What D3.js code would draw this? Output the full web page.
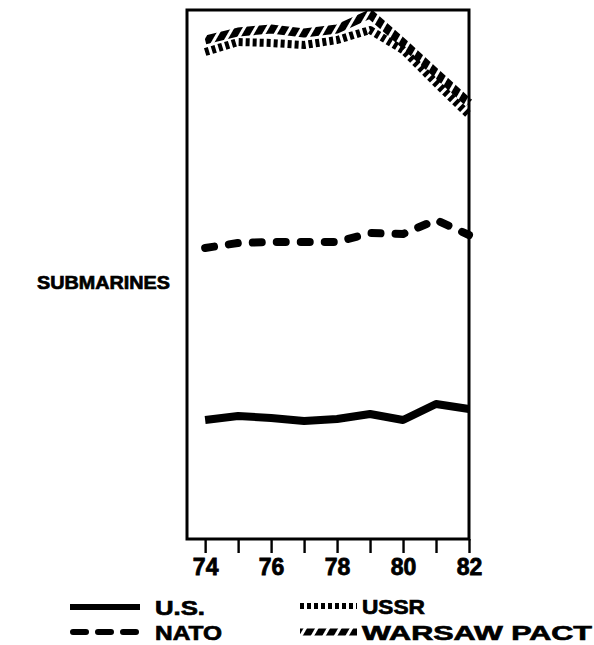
<!DOCTYPE html>
<html>
<head>
<meta charset="utf-8">
<script src="https://cdn.jsdelivr.net/npm/d3@7"></script>
<style>
  body { margin: 0; background: #fff; }
  text { font-family: "Liberation Sans", Arial, sans-serif; font-weight: bold; fill: #000; stroke: #000; stroke-width: 0.7px; }
</style>
</head>
<body>
<svg id="chart" width="594" height="645"></svg>
<script>
// years on the x axis
const years = [74, 75, 76, 77, 78, 79, 80, 81, 82];
const tickLabels = ['74', '76', '78', '80', '82'];

// relative force levels (no scale printed)
const us       = [119, 123, 121, 118, 120, 125, 119, 135, 130];
const nato     = [291, 296, 297, 297, 297, 306, 305, 319, 304];
const ussr     = [487, 497, 496, 494, 499, 509, 489, 456, 424];
const warsaw   = [499, 507, 510, 506, 510, 525, 496, 466, 436];

const seriesNames = ['U.S.', 'NATO', 'USSR', 'WARSAW PACT'];
const yLabel = 'SUBMARINES';

const svg = d3.select('#chart');
const margin = { top: 10, left: 187, right: 125, bottom: 106 };
const width = 594 - margin.left - margin.right;
const height = 645 - margin.top - margin.bottom;

// hatch pattern for the Warsaw Pact stroke
const defs = svg.append('defs');
defs.append('pattern')
  .attr('id', 'hatch')
  .attr('patternUnits', 'userSpaceOnUse')
  .attr('width', 10).attr('height', 10)
  .attr('patternTransform', 'rotate(30)')
  .append('rect')
  .attr('x', 0).attr('y', 0)
  .attr('width', 7).attr('height', 10)
  .attr('fill', '#000');

const styles = {
  'U.S.':        { stroke: '#000', width: 8, dash: null, legendDash: null, cap: 'butt' },
  'NATO':        { stroke: '#000', width: 8, dash: '9,15', legendDash: '13,12', cap: 'round' },
  'USSR':        { stroke: '#000', width: 8, dash: '4,3', legendDash: '4,3', cap: 'butt' },
  'WARSAW PACT': { stroke: 'url(#hatch)', width: 9, dash: null, legendDash: null, cap: 'butt' }
};

const g = svg.append('g')
  .attr('transform', `translate(${margin.left},${margin.top})`);

const x = d3.scaleLinear()
  .domain([73.45, 82])
  .range([0, width]);

const y = d3.scaleLinear()
  .domain([0, 529])
  .range([height, 0]);

// frame
g.append('rect')
  .attr('x', 0).attr('y', 0)
  .attr('width', width).attr('height', height)
  .attr('fill', 'none')
  .attr('stroke', '#000')
  .attr('stroke-width', 3);

// x axis
const xAxis = g.append('g')
  .attr('transform', `translate(0,${height})`)
  .call(d3.axisBottom(x)
    .tickValues(years)
    .tickSize(14)
    .tickFormat(d => tickLabels.includes(String(d)) ? String(d) : ''));
xAxis.select('.domain').remove();
xAxis.selectAll('.tick line').attr('stroke', '#000').attr('stroke-width', 2.4);
xAxis.selectAll('.tick text')
  .attr('y', 20)
  .attr('dy', '0.71em')
  .style('font-family', '"Liberation Sans", Arial, sans-serif')
  .style('font-weight', 'bold')
  .style('font-size', '23px')
  .style('stroke', '#000')
  .style('stroke-width', '0.8px')
  .attr('fill', '#000');

// lines
const line = d3.line()
  .x((d, i) => x(years[i]))
  .y(d => y(d));

const data = [
  { name: 'U.S.', values: us },
  { name: 'NATO', values: nato },
  { name: 'USSR', values: ussr },
  { name: 'WARSAW PACT', values: warsaw }
];

g.selectAll('.series')
  .data(data)
  .enter().append('path')
  .attr('class', 'series')
  .attr('d', d => line(d.values))
  .attr('fill', 'none')
  .attr('stroke', d => styles[d.name].stroke)
  .attr('stroke-width', d => styles[d.name].width)
  .attr('stroke-dasharray', d => styles[d.name].dash)
  .attr('stroke-linecap', d => styles[d.name].cap)
  .attr('stroke-linejoin', 'round');

// y label
svg.append('text')
  .attr('x', 170)
  .attr('y', 289)
  .attr('text-anchor', 'end')
  .style('font-size', '19px')
  .attr('textLength', 133)
  .attr('lengthAdjust', 'spacingAndGlyphs')
  .text(yLabel);

// legend
const legendPos = [
  { x1: 70, x2: 140, tx: 155, y: 607 },
  { x1: 73, x2: 137, tx: 155, y: 632 },
  { x1: 300, x2: 357, tx: 362, y: 606 },
  { x1: 300, x2: 357, tx: 362, y: 632 }
];
const textLens = [50, 67, 63, 230];

const legend = svg.selectAll('.legend')
  .data(seriesNames)
  .enter().append('g')
  .attr('class', 'legend');

legend.append('line')
  .attr('x1', (d, i) => legendPos[i].x1)
  .attr('x2', (d, i) => legendPos[i].x2)
  .attr('y1', (d, i) => legendPos[i].y)
  .attr('y2', (d, i) => legendPos[i].y)
  .attr('stroke', d => styles[d].stroke)
  .attr('stroke-width', d => styles[d].width - 2)
  .attr('stroke-dasharray', d => styles[d].legendDash)
  .attr('stroke-linecap', d => styles[d].cap);

legend.append('text')
  .attr('x', (d, i) => legendPos[i].tx)
  .attr('y', (d, i) => legendPos[i].y + 8)
  .style('font-size', '21px')
  .attr('textLength', (d, i) => textLens[i])
  .attr('lengthAdjust', 'spacingAndGlyphs')
  .text(d => d);
</script>
</body>
</html>
